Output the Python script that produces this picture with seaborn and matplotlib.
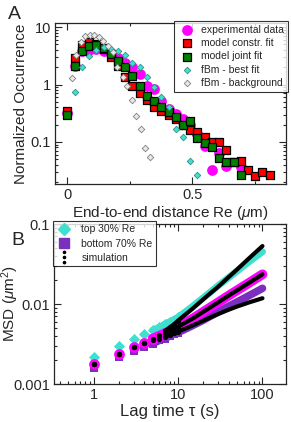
import numpy as np
import pandas as pd
import matplotlib.pyplot as plt
import matplotlib.ticker as mticker
from matplotlib.lines import Line2D
import seaborn as sns

# ---- panel A: end-to-end distance distributions ----
re_bins = [0.0, 0.029, 0.058, 0.087, 0.116, 0.145, 0.173, 0.202, 0.231, 0.260,
           0.289, 0.318, 0.347, 0.376, 0.405, 0.434, 0.462, 0.491, 0.520, 0.549,
           0.578, 0.607, 0.636, 0.665, 0.694, 0.723, 0.751, 0.780, 0.809]

exp_re = re_bins[:23] + [0.694]
exp_occ = [0.32, 2.1, 3.8, 4.0, 4.1, 3.9, 3.5, 2.9, 2.4, 2.0, 1.5, 0.95,
           0.83, 0.52, 0.38, 0.31, 0.25, 0.20, 0.14, 0.085, 0.033, 0.065,
           0.038, 0.036]

constr_occ = [0.34, 2.9, 4.8, 5.4, 5.0, 4.2, 3.0, 2.1, 1.37, 0.93, 0.70, 0.54,
              0.40, 0.34, 0.30, 0.25, 0.20, 0.16, 0.146, 0.123, 0.098, 0.10,
              0.072, 0.045, 0.046, 0.033, 0.026, 0.030, 0.027]

joint_occ = [0.30, 2.14, 3.9, 4.7, 4.9, 4.4, 3.4, 2.6, 2.06, 1.4, 0.95, 0.63,
             0.52, 0.40, 0.33, 0.27, 0.20, 0.23, 0.115, 0.095, 0.081, 0.053,
             0.044, 0.044, 0.027]

fbm_fit_re = re_bins[1:19]
fbm_fit_occ = [0.75, 2.0, 3.2, 4.0, 4.5, 4.2, 3.9, 3.3, 2.4, 2.0, 1.33, 0.89,
               0.60, 0.41, 0.17, 0.12, 0.047, 0.027]

fbm_bg_re = [0.018, 0.036, 0.053, 0.069, 0.089, 0.107, 0.126, 0.143, 0.163,
             0.183, 0.200, 0.223, 0.237, 0.257, 0.274, 0.293, 0.310, 0.330]
fbm_bg_occ = [1.3, 3.3, 5.6, 7.0, 7.4, 7.2, 6.7, 5.8, 4.6, 3.7, 2.0, 1.34,
              0.93, 0.54, 0.28, 0.17, 0.078, 0.055]

# ---- panel B: MSD vs lag time ----
lag = [1, 2, 3, 4, 5, 6, 7, 8, 9, 10, 15, 20, 30, 40, 50, 70, 100]
msd_top = [0.0022, 0.0030, 0.0036, 0.0042, 0.0047, 0.0051, 0.0056, 0.0060,
           0.0064, 0.0068, 0.0094, 0.0120, 0.0170, 0.0215, 0.0257, 0.034, 0.045]
msd_bottom = [0.0016, 0.0022, 0.0026, 0.0029, 0.0032, 0.0035, 0.0037, 0.0040,
              0.0042, 0.0044, 0.0054, 0.0063, 0.0080, 0.0094, 0.0106, 0.0128, 0.0157]
msd_all = [0.0018, 0.0024, 0.0029, 0.0033, 0.0037, 0.0040, 0.0043, 0.0046,
           0.0049, 0.0052, 0.0066, 0.0080, 0.0105, 0.0128, 0.0148, 0.0185, 0.0235]
sim_hi = [0.0018, 0.0024, 0.0029, 0.0033, 0.0037, 0.0041, 0.0046, 0.0051,
          0.0056, 0.0062, 0.0088, 0.0115, 0.0165, 0.0218, 0.027, 0.0376, 0.053]
sim_mid = msd_all
sim_lo = [0.0018, 0.0024, 0.0029, 0.0033, 0.0035, 0.0037, 0.0039, 0.0041,
          0.0043, 0.0045, 0.0054, 0.0062, 0.0075, 0.0085, 0.0093, 0.0105, 0.0118]

sns.set_style('ticks')
plt.rcParams['font.family'] = ['Liberation Sans', 'DejaVu Sans']
plt.rcParams['mathtext.fontset'] = 'custom'
plt.rcParams['mathtext.rm'] = 'Liberation Sans'
plt.rcParams['mathtext.it'] = 'Liberation Sans:italic'

fig = plt.figure(figsize=(2.91, 4.22), dpi=100)
axA = fig.add_axes([55 / 291, 1 - 184 / 422, 231 / 291, 161 / 422])
axB = fig.add_axes([54 / 291, 1 - 384 / 422, 232 / 291, 160 / 422])

for ax in (axA, axB):
    ax.tick_params(which='both', direction='in', top=True, right=True,
                   labelsize=10.5, width=0.8, pad=3)
    ax.tick_params(which='major', length=5)
    ax.tick_params(which='minor', length=2.5)
    for sp in ax.spines.values():
        sp.set_linewidth(0.9)

# --- A ---
axA.set_yscale('log')
sns.scatterplot(x=exp_re, y=exp_occ, ax=axA, marker='o', s=60, color='#ff00ff',
                linewidth=0, label='experimental data', zorder=2)
sns.scatterplot(x=re_bins, y=constr_occ, ax=axA, marker='s', s=30, color='#ff0000',
                edgecolor='black', linewidth=0.9, label='model constr. fit', zorder=3)
sns.scatterplot(x=re_bins[:25], y=joint_occ, ax=axA, marker='s', s=30, color='#008000',
                edgecolor='black', linewidth=0.9, label='model joint fit', zorder=4)
sns.scatterplot(x=fbm_fit_re, y=fbm_fit_occ, ax=axA, marker='D', s=11, color='#40e0d0',
                edgecolor='#2f8f86', linewidth=0.6, label='fBm - best fit', zorder=5)
sns.scatterplot(x=fbm_bg_re, y=fbm_bg_occ, ax=axA, marker='D', s=11, color='#e8e8e8',
                edgecolor='#808080', linewidth=0.6, label='fBm - background', zorder=6)

axA.set_xlim(-0.05, 0.875)
axA.set_ylim(0.0185, 11.8)
axA.xaxis.set_major_locator(mticker.FixedLocator([0, 0.5]))
axA.xaxis.set_minor_locator(mticker.FixedLocator([0.25, 0.75]))
axA.xaxis.set_major_formatter(mticker.FuncFormatter(lambda v, p: '%g' % v))
axA.yaxis.set_major_formatter(mticker.FuncFormatter(lambda v, p: '%g' % v))
axA.yaxis.set_minor_formatter(mticker.NullFormatter())
axA.set_xlabel(r'End-to-end distance Re ($\mu$m)', fontsize=11, labelpad=1)
axA.set_ylabel('Normalized Occurrence', fontsize=11, labelpad=2)
legA = axA.legend(loc='upper right', bbox_to_anchor=(1.01, 1.015), fontsize=7.5,
                  frameon=True, fancybox=False, edgecolor='black', borderaxespad=0.0,
                  handletextpad=0.6, labelspacing=0.32, borderpad=0.4, handlelength=1.6)
legA.get_frame().set_linewidth(0.8)
fig.text(8 / 291, 1 - 19 / 422, 'A', fontsize=14)

# --- B ---
axB.set_xscale('log')
axB.set_yscale('log')
n_dots = 10  # individual markers at short lags, dense band afterwards
sns.lineplot(x=lag[4:], y=msd_bottom[4:], ax=axB, color='#7b2fbe', lw=5.5, zorder=2)
sns.scatterplot(x=lag[:n_dots], y=msd_bottom[:n_dots], ax=axB, marker='s', s=40,
                color='#7b2fbe', linewidth=0, zorder=2)
sns.lineplot(x=lag[4:], y=msd_top[4:], ax=axB, color='#40e0d0', lw=5, zorder=3)
sns.scatterplot(x=lag[:n_dots], y=msd_top[:n_dots], ax=axB, marker='D', s=32,
                color='#40e0d0', linewidth=0, zorder=3)
sns.lineplot(x=lag[4:], y=msd_all[4:], ax=axB, color='#ff00ff', lw=7, zorder=4)
sns.scatterplot(x=lag[:n_dots], y=msd_all[:n_dots], ax=axB, marker='o', s=60,
                color='#ff00ff', linewidth=0, zorder=4)
for sim in (sim_hi, sim_mid, sim_lo):
    sns.lineplot(x=lag[6:], y=sim[6:], ax=axB, color='black', lw=3, zorder=5)
    sns.scatterplot(x=lag[:n_dots], y=sim[:n_dots], ax=axB, marker='o', s=14,
                    color='black', linewidth=0, zorder=5)

axB.set_xlim(0.34, 190)
axB.set_ylim(0.001, 0.1)
axB.xaxis.set_major_formatter(mticker.FuncFormatter(lambda v, p: '%g' % v))
axB.yaxis.set_major_formatter(mticker.FuncFormatter(lambda v, p: '%g' % v))
axB.xaxis.set_minor_formatter(mticker.NullFormatter())
axB.yaxis.set_minor_formatter(mticker.NullFormatter())
axB.xaxis.set_minor_locator(mticker.LogLocator(base=10, subs=np.arange(2, 10), numticks=12))
axB.yaxis.set_minor_locator(mticker.LogLocator(base=10, subs=np.arange(2, 10), numticks=12))
axB.set_xlabel('Lag time τ (s)', fontsize=12, labelpad=1)
axB.set_ylabel(r'MSD ($\mu$m$^2$)', fontsize=11)
axB.yaxis.set_label_coords(-0.142, 0.5)

handlesB = [
    Line2D([], [], ls='', marker='D', ms=6.5, color='#40e0d0', mec='#40e0d0'),
    Line2D([], [], ls='', marker='s', ms=7, color='#7b2fbe', mec='#7b2fbe'),
    Line2D([], [], ls='', marker=r'$\vdots$', ms=9, color='black'),
]
legB = axB.legend(handlesB, ['top 30% Re', 'bottom 70% Re', 'simulation'],
                  loc='upper left', bbox_to_anchor=(-0.005, 1.02), fontsize=7.5,
                  frameon=True, fancybox=False, edgecolor='black', borderaxespad=0.0,
                  handletextpad=1.0, labelspacing=0.4, borderpad=0.35, handlelength=1.4)
legB.get_frame().set_linewidth(0.8)
fig.text(11 / 291, 1 - 245 / 422, 'B', fontsize=14)

fig.savefig('out.png', dpi=100)
